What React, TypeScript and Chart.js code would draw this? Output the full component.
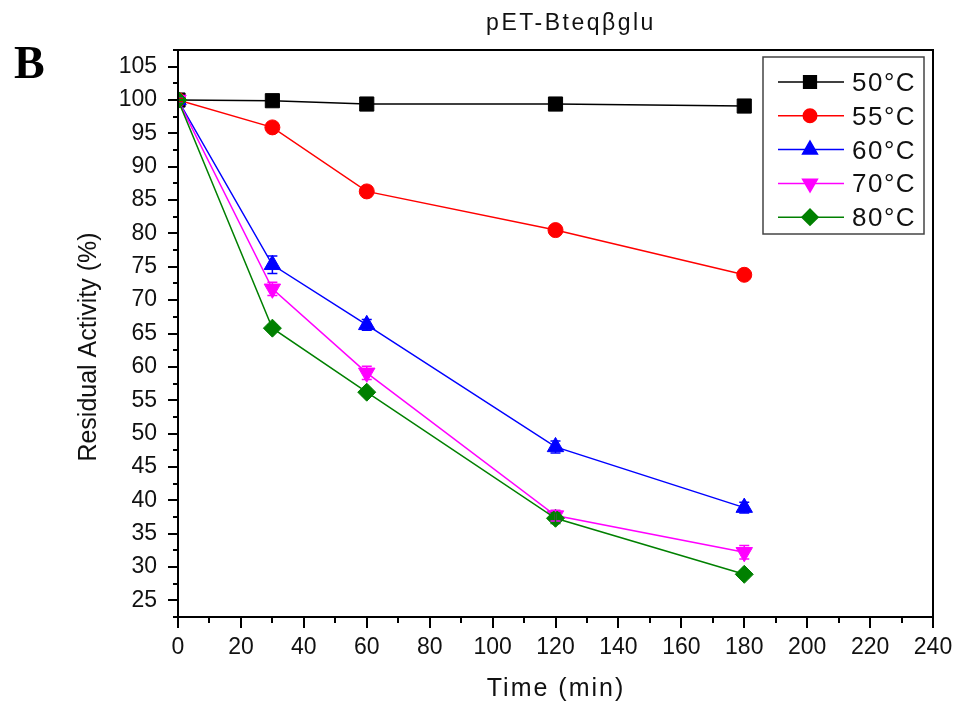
import React, { useEffect, useRef } from 'react';
import { Chart, registerables } from 'chart.js';
import { drawPoint } from 'chart.js/helpers';

Chart.register(...registerables);

const chartTitle = 'pET-Bteqβglu';
const panelLetter = 'B';
const xTitle = 'Time (min)';
const yTitle = 'Residual Activity (%)';

const times = [0, 30, 60, 120, 180];
const seriesNames = ['50°C', '55°C', '60°C', '70°C', '80°C'];
const values50 = [100, 99.9, 99.4, 99.4, 99.1];
const values55 = [100, 95.9, 86.3, 80.5, 73.8];
const values60 = [100, 75.3, 66.3, 48.0, 38.9];
const values70 = [100, 71.7, 59.1, 37.7, 32.2];
const values80 = [100, 65.8, 56.2, 37.3, 28.9];
const errors50 = [0.3, 0.4, 0.6, 0.8, 0.6];
const errors55 = [0.3, 0.5, 0.6, 0.5, 0.5];
const errors60 = [0.5, 1.3, 0.8, 0.9, 0.8];
const errors70 = [0.5, 1.0, 1.0, 0.8, 1.0];
const errors80 = [0.5, 0.5, 0.5, 0.8, 0.5];

const xMin = 0, xMax = 240, xMajor = 20, xMinor = 10;
const yMin = 22.5, yMax = 107.5, yMajor = 5, yMinor = 2.5;

const colors = ['#000000', '#ff0000', '#0000ff', '#ff00ff', '#008000'];
const styles = [
  { pointStyle: 'rect', rotation: 0, radius: 10 },
  { pointStyle: 'circle', rotation: 0, radius: 7.5 },
  { pointStyle: 'triangle', rotation: 0, radius: 9.5 },
  { pointStyle: 'triangle', rotation: 180, radius: 9.5 },
  { pointStyle: 'rectRot', rotation: 0, radius: 9 },
];
const allValues = [values50, values55, values60, values70, values80];
const allErrors = [errors50, errors55, errors60, errors70, errors80];

const FONT = 'Arial, "Liberation Sans", sans-serif';

const decorPlugin = {
  id: 'decor',
  afterDatasetsDraw(chart: any) {
    const { ctx, chartArea } = chart;
    const xs = chart.scales.x;
    const ys = chart.scales.y;
    ctx.save();
    ctx.beginPath();
    ctx.rect(chartArea.left, chartArea.top, chartArea.right - chartArea.left, chartArea.bottom - chartArea.top);
    ctx.clip();
    chart.data.datasets.forEach((ds: any, i: number) => {
      const errs = allErrors[i];
      ctx.strokeStyle = colors[i];
      ctx.lineWidth = 1.5;
      ds.data.forEach((p: any, j: number) => {
        const x = xs.getPixelForValue(p.x);
        const yt = ys.getPixelForValue(p.y + errs[j]);
        const yb = ys.getPixelForValue(p.y - errs[j]);
        ctx.beginPath();
        ctx.moveTo(x, yt); ctx.lineTo(x, yb);
        ctx.moveTo(x - 5, yt); ctx.lineTo(x + 5, yt);
        ctx.moveTo(x - 5, yb); ctx.lineTo(x + 5, yb);
        ctx.stroke();
      });
    });
    ctx.restore();
  },
  afterDraw(chart: any) {
    const { ctx, chartArea } = chart;
    const xs = chart.scales.x;
    const ys = chart.scales.y;
    const { left, right, top, bottom } = chartArea;
    ctx.save();
    // frame
    ctx.strokeStyle = '#000';
    ctx.lineWidth = 2;
    ctx.strokeRect(left, top, right - left, bottom - top);
    // ticks
    ctx.lineWidth = 2;
    ctx.beginPath();
    for (let v = yMin; v <= yMax + 1e-6; v += yMinor) {
      const y = Math.round(ys.getPixelForValue(v));
      const major = Math.abs(v / yMajor - Math.round(v / yMajor)) < 1e-6;
      ctx.moveTo(left, y);
      ctx.lineTo(left - (major ? 10 : 5), y);
    }
    for (let v = xMin; v <= xMax + 1e-6; v += xMinor) {
      const x = Math.round(xs.getPixelForValue(v));
      const major = Math.abs(v / xMajor - Math.round(v / xMajor)) < 1e-6;
      ctx.moveTo(x, bottom);
      ctx.lineTo(x, bottom + (major ? 11 : 6));
    }
    ctx.stroke();

    // titles
    ctx.fillStyle = '#111';
    ctx.textBaseline = 'alphabetic';
    ctx.textAlign = 'center';
    (ctx as any).letterSpacing = '2.5px';
    ctx.font = `23px ${FONT}`;
    ctx.fillText(chartTitle, 571, 30);
    (ctx as any).letterSpacing = '2px';
    ctx.font = `25px ${FONT}`;
    ctx.fillText(xTitle, 556, 696);
    (ctx as any).letterSpacing = '0px';
    ctx.save();
    ctx.translate(96, 347);
    ctx.rotate(-Math.PI / 2);
    ctx.font = `25px ${FONT}`;
    ctx.fillText(yTitle, 0, 0);
    ctx.restore();

    ctx.textAlign = 'left';
    ctx.fillStyle = '#000';
    ctx.font = `bold 46px "Liberation Serif", "Times New Roman", serif`;
    ctx.fillText(panelLetter, 14, 78);

    // legend
    const bx = right - 170, by = top + 7, bw = 161, bh = 177;
    ctx.strokeStyle = '#444';
    ctx.lineWidth = 1.5;
    ctx.strokeRect(bx, by, bw, bh);
    (ctx as any).letterSpacing = '1.5px';
    ctx.font = `26px ${FONT}`;
    chart.data.datasets.forEach((ds: any, i: number) => {
      const cy = by + 25 + i * 33.8;
      ctx.strokeStyle = colors[i];
      ctx.fillStyle = colors[i];
      ctx.lineWidth = 1.5;
      ctx.beginPath();
      ctx.moveTo(bx + 15, cy);
      ctx.lineTo(bx + 81, cy);
      ctx.stroke();
      drawPoint(ctx, { pointStyle: styles[i].pointStyle as any, rotation: styles[i].rotation, radius: styles[i].radius * 0.9, borderWidth: 1 }, bx + 47, cy);
      ctx.fillStyle = '#111';
      ctx.fillText(ds.label, bx + 89, cy + 9);
    });
    ctx.restore();
  },
};

export default function App() {
  const ref = useRef<HTMLCanvasElement | null>(null);
  useEffect(() => {
    if (!ref.current) return;
    const datasets = seriesNames.map((name, i) => ({
      label: name,
      data: times.map((t, j) => ({ x: t, y: allValues[i][j] })),
      borderColor: colors[i],
      backgroundColor: colors[i],
      pointBackgroundColor: colors[i],
      pointBorderColor: colors[i],
      borderWidth: 1.5,
      pointBorderWidth: 1,
      pointStyle: styles[i].pointStyle as any,
      rotation: styles[i].rotation,
      pointRadius: styles[i].radius,
      pointHoverRadius: styles[i].radius,
      tension: 0,
      clip: 0,
      order: 5 - i,
    }));
    const chart = new Chart(ref.current, {
      type: 'line',
      data: { datasets },
      plugins: [decorPlugin],
      options: {
        animation: false,
        responsive: false,
        layout: { padding: { top: 50, right: 25, left: 0, bottom: 0 } },
        plugins: { legend: { display: false }, title: { display: false }, tooltip: { enabled: false } },
        scales: {
          x: {
            type: 'linear',
            min: xMin,
            max: xMax,
            border: { display: false },
            grid: { display: false, drawTicks: false },
            ticks: {
              stepSize: xMajor,
              padding: 17,
              color: '#111',
              font: { family: FONT, size: 23 },
              maxRotation: 0,
              autoSkip: false,
            },
            afterFit: (s: any) => { s.height = 92; s.paddingLeft = 0; s.paddingRight = 0; },
          },
          y: {
            type: 'linear',
            min: yMin,
            max: yMax,
            border: { display: false },
            grid: { display: false, drawTicks: false },
            afterBuildTicks: (s: any) => {
              const t = [];
              for (let v = 25; v <= 105; v += yMajor) t.push({ value: v });
              s.ticks = t;
            },
            ticks: {
              padding: 21,
              color: '#111',
              font: { family: FONT, size: 23 },
              autoSkip: false,
            },
            afterFit: (s: any) => { s.width = 178; s.paddingTop = 0; s.paddingBottom = 0; },
          },
        },
      },
    });
    return () => chart.destroy();
  }, []);
  return (
    <div style={{ position: 'absolute', left: 0, top: 0, width: 958, height: 709, background: '#fff' }}>
      <canvas ref={ref} width={958} height={709} style={{ display: 'block' }} />
    </div>
  );
}
